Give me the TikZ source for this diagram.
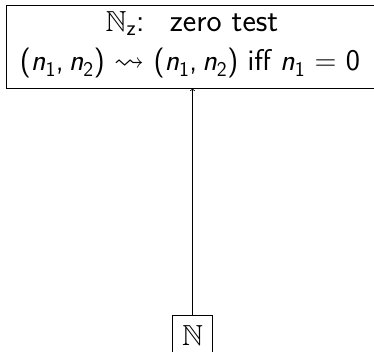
\documentclass[tikz,border=0pt]{standalone}
\usepackage{amssymb}
\newcommand\nv[1]{\textit{n}\textsubscript{#1}}
\newcommand\pair{(\nv{1},\,\nv{2})}
\tikzset{
  boxed/.style={draw, line width=0.8pt, inner sep=0pt},
  txt/.style={anchor=base, inner sep=0pt, font=\fontsize{30}{36}\selectfont\sffamily},
  conn/.style={draw, line width=0.8pt, ->}
}
\begin{document}
\begin{tikzpicture}[x=1pt,y=1pt]
\useasboundingbox (0,0) rectangle (374,-352);
\node[boxed, minimum width=368pt, minimum height=83pt] (zt) at (190,-46.5) {};
\node[txt, font=\fontsize{32}{36}\selectfont\sffamily] (zt1) at (192,-32) {{\fontsize{29}{30}\selectfont$\mathbb{N}$}\textsubscript{z}:\ \ \,zero test};
\node[txt] (zt2) at (190,-71) {\pair\ $\leadsto$\ \pair\ iff \nv{1}\ =\ 0};
\node[boxed, minimum width=40.5pt, minimum height=41pt, font=\fontsize{29}{34}\selectfont] (nat) at (192.5,-335.5) {$\mathbb{N}$};
\draw[conn] (nat.north) -- (nat.north |- zt.south);
\end{tikzpicture}
\end{document}
